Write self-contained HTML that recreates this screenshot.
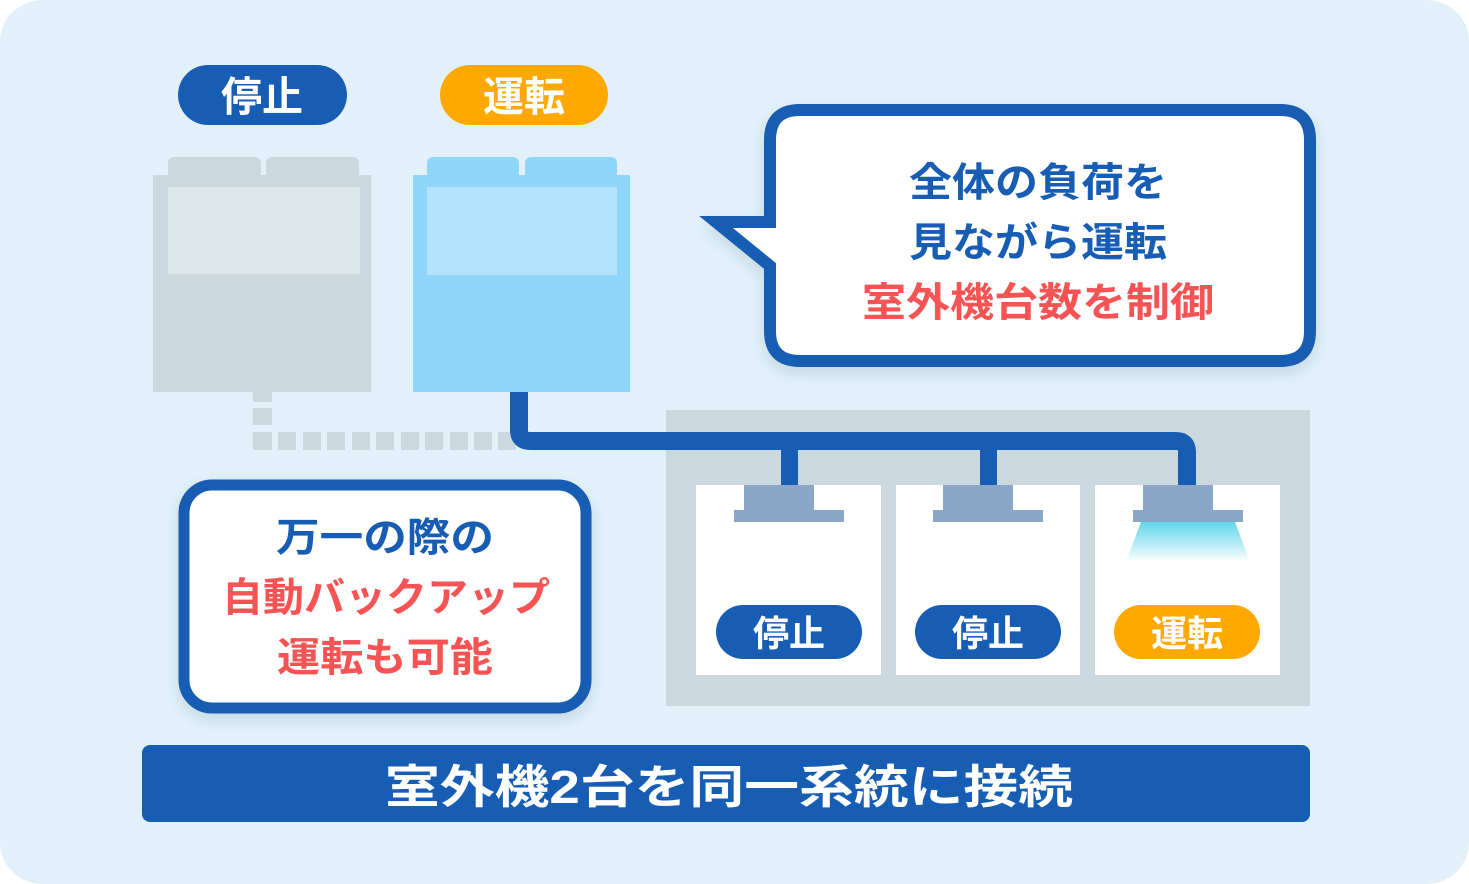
<!DOCTYPE html>
<html><head><meta charset="utf-8"><style>
html,body{margin:0;padding:0;background:#fff;}
svg{display:block;}
text{font-family:"Liberation Sans","Noto Sans CJK JP",sans-serif;font-weight:bold;}
</style></head><body>
<svg width="1469" height="884" viewBox="0 0 1469 884" xmlns="http://www.w3.org/2000/svg">
<defs>
<linearGradient id="cone" x1="0" y1="0" x2="0" y2="1">
<stop offset="0" stop-color="#5fd6ea"/><stop offset="1" stop-color="#ffffff"/>
</linearGradient>
<filter id="sh" x="-10%" y="-10%" width="120%" height="130%"><feDropShadow dx="0" dy="6" stdDeviation="8" flood-color="#8aa4b4" flood-opacity="0.35"/></filter>
</defs>
<rect x="0" y="0" width="1469" height="884" rx="42" fill="#e2f1f9"/>

<!-- top pills -->
<rect x="178" y="65" width="169" height="60" rx="30" fill="#175db3"/>
<text x="262" y="111" font-size="41" fill="#fff" text-anchor="middle">停止</text>
<rect x="440" y="65" width="168" height="60" rx="30" fill="#ffa800"/>
<text x="524" y="111" font-size="41" fill="#fff" text-anchor="middle">運転</text>

<!-- gray unit -->
<rect x="168" y="157" width="93" height="22" rx="6" fill="#cbd9df"/>
<rect x="266" y="157" width="93" height="22" rx="6" fill="#cbd9df"/>
<rect x="153" y="175" width="218" height="217" fill="#cbd9df"/>
<rect x="168" y="187" width="192" height="87" fill="#dce5e8"/>
<!-- blue unit -->
<rect x="427" y="157" width="92" height="22" rx="6" fill="#8fd6fb"/>
<rect x="525" y="157" width="92" height="22" rx="6" fill="#8fd6fb"/>
<rect x="413" y="175" width="217" height="217" fill="#8fd6fb"/>
<rect x="427" y="187" width="190" height="88" fill="#b3e3fb"/>

<!-- gray dashed pipe -->
<g fill="#cbd9df">
<rect x="253" y="392" width="19" height="10"/>
<rect x="253" y="408" width="19" height="17"/>
<rect x="253" y="432" width="19" height="18"/>
<rect x="278" y="432" width="18" height="18"/>
<rect x="303" y="432" width="18" height="18"/>
<rect x="327" y="432" width="18" height="18"/>
<rect x="352" y="432" width="18" height="18"/>
<rect x="376" y="432" width="18" height="18"/>
<rect x="401" y="432" width="18" height="18"/>
<rect x="425" y="432" width="18" height="18"/>
<rect x="450" y="432" width="18" height="18"/>
<rect x="474" y="432" width="18" height="18"/>
<rect x="498" y="432" width="18" height="18"/>
</g>

<!-- room panel -->
<rect x="666" y="410" width="644" height="296" fill="#cbd9df"/>
<rect x="696" y="485" width="185" height="190" fill="#fff"/>
<rect x="896" y="485" width="184" height="190" fill="#fff"/>
<rect x="1095" y="485" width="185" height="190" fill="#fff"/>

<!-- blue pipe -->
<path d="M519 392 V430 Q519 441 530 441 H1176 Q1187 441 1187 452 V486" fill="none" stroke="#175db3" stroke-width="18"/>
<rect x="781" y="441" width="17" height="45" fill="#175db3"/>
<rect x="980" y="441" width="17" height="45" fill="#175db3"/>

<!-- AC units -->
<g fill="#8aa7c8">
<rect x="744" y="485" width="70" height="25"/><rect x="734" y="510" width="110" height="12"/>
<rect x="943" y="485" width="70" height="25"/><rect x="933" y="510" width="110" height="12"/>
<rect x="1143" y="485" width="70" height="25"/><rect x="1133" y="510" width="110" height="12"/>
</g>
<polygon points="1141,522 1235,522 1250,562 1126,562" fill="url(#cone)"/>

<!-- room pills -->
<rect x="716" y="605" width="146" height="54" rx="27" fill="#175db3"/>
<text x="789" y="646" font-size="36" fill="#fff" text-anchor="middle">停止</text>
<rect x="915" y="605" width="146" height="54" rx="27" fill="#175db3"/>
<text x="988" y="646" font-size="36" fill="#fff" text-anchor="middle">停止</text>
<rect x="1114" y="605" width="146" height="54" rx="27" fill="#ffa800"/>
<text x="1187" y="646" font-size="36" fill="#fff" text-anchor="middle">運転</text>

<!-- speech bubble -->
<g filter="url(#sh)">
<path d="M800 110 H1280 Q1310 110 1310 140 V331 Q1310 361 1280 361 H800 Q770 361 770 331 V266 L716 222 H770 V140 Q770 110 800 110 Z" fill="#fff" stroke="#175db3" stroke-width="12" stroke-linejoin="miter"/>
</g>
<text x="1038" y="196" font-size="40" fill="#175db3" text-anchor="middle" textLength="258" lengthAdjust="spacingAndGlyphs">全体の負荷を</text>
<text x="1038" y="256" font-size="40" fill="#175db3" text-anchor="middle" textLength="258" lengthAdjust="spacingAndGlyphs">見ながら運転</text>
<text x="1038" y="316" font-size="40" fill="#f65454" text-anchor="middle" textLength="352" lengthAdjust="spacingAndGlyphs">室外機台数を制御</text>

<!-- backup box -->
<g filter="url(#sh)">
<rect x="184" y="485" width="402" height="223" rx="28" fill="#fff" stroke="#175db3" stroke-width="11"/>
</g>
<text x="385" y="551" font-size="40" fill="#175db3" text-anchor="middle" textLength="218" lengthAdjust="spacingAndGlyphs">万一の際の</text>
<text x="386" y="611" font-size="40" fill="#f65454" text-anchor="middle" textLength="328" lengthAdjust="spacingAndGlyphs">自動バックアップ</text>
<text x="385" y="671" font-size="40" fill="#f65454" text-anchor="middle" textLength="216" lengthAdjust="spacingAndGlyphs">運転も可能</text>

<!-- bottom bar -->
<rect x="142" y="745" width="1168" height="77" rx="8" fill="#175db3"/>
<text x="729" y="803" font-size="46" fill="#fff" text-anchor="middle" textLength="688" lengthAdjust="spacingAndGlyphs">室外機2台を同一系統に接続</text>
</svg>
</body></html>
